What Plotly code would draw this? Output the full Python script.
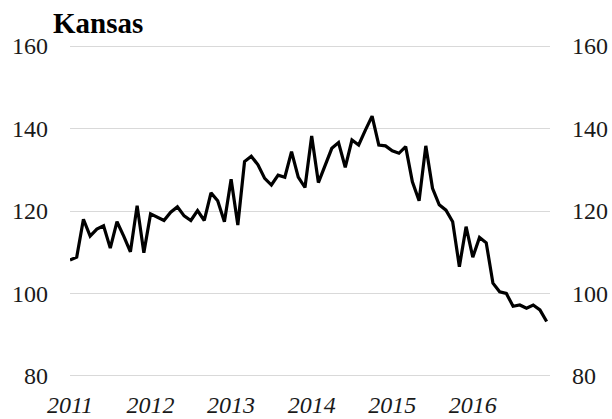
import plotly.graph_objects as go

# Kansas, monthly, Jan 2011 - Dec 2016
values = [
    108.1, 108.8, 118.0, 113.9, 115.6, 116.4, 111.0, 117.4, 113.9, 110.1, 121.3, 109.9,
    119.3, 118.5, 117.7, 119.7, 121.0, 118.8, 117.7, 120.1, 117.7, 124.4, 122.5, 117.4,
    127.7, 116.6, 132.0, 133.3, 131.2, 127.9, 126.3, 128.7, 128.2, 134.4, 128.2, 125.7,
    138.2, 126.9, 130.9, 135.2, 136.6, 130.6, 137.2, 136.0, 139.6, 143.0, 136.0, 135.8,
    134.6, 134.0, 135.6, 127.1, 122.5, 135.8, 125.5, 121.5, 120.2, 117.4, 106.5, 116.2,
    108.8, 113.6, 112.3, 102.5, 100.4, 100.0, 96.9, 97.2, 96.4, 97.2, 96.0, 93.2,
]
years = ["2011", "2012", "2013", "2014", "2015", "2016"]
y_ticks = [80, 100, 120, 140, 160]

months = list(range(len(values)))
year_pos = [i * 12 for i in range(len(years))]

serif = "Liberation Serif"
ink = "#1a1a1a"
tick_font = dict(family=serif, size=24, color=ink)

fig = go.Figure()
fig.add_trace(go.Scatter(x=months, y=values, mode="lines",
                         line=dict(color="black", width=3.2), showlegend=False))
# invisible copy so the right-hand axis gets drawn
fig.add_trace(go.Scatter(x=months, y=values, mode="lines", yaxis="y2",
                         line=dict(color="rgba(0,0,0,0)", width=0),
                         hoverinfo="skip", showlegend=False))

# plot area x 70..550, y 44..378 (range padded so the edge gridlines show)
fig.update_layout(
    template="none",
    width=612, height=419,
    margin=dict(l=70, r=62, t=44, b=41, autoexpand=False),
    paper_bgcolor="white", plot_bgcolor="white",
    font=tick_font,
    xaxis=dict(range=[0, 71.5], tickvals=year_pos, ticktext=years,
               showgrid=False, zeroline=False, showline=False, ticks="",
               automargin=False,
               tickfont=dict(family=serif, size=24, color=ink, style="italic"),
               ticklabelstandoff=10),
    yaxis=dict(range=[79.5, 160.5], tickvals=y_ticks, showgrid=True,
               gridcolor="#d9d9d9", gridwidth=1.3, zeroline=False,
               showline=False, ticks="", automargin=False,
               tickfont=tick_font, ticklabelstandoff=21),
    yaxis2=dict(range=[79.5, 160.5], tickvals=y_ticks, overlaying="y",
                side="right", showgrid=False, zeroline=False,
                showline=False, ticks="", automargin=False,
                tickfont=tick_font, ticklabelstandoff=21),
    annotations=[dict(text="<b>Kansas</b>", xref="paper", yref="paper",
                      x=(51 - 70) / 480, y=1 + 3 / 334,
                      xanchor="left", yanchor="bottom", showarrow=False,
                      font=dict(family=serif, size=29, color="black"))],
)

# drop the default 8px body margin so the figure sits at the window corner
fig.write_html("out.html",
               config={"displayModeBar": False},
               post_script="document.body.style.margin='0';"
                           "document.body.style.overflow='hidden';")
